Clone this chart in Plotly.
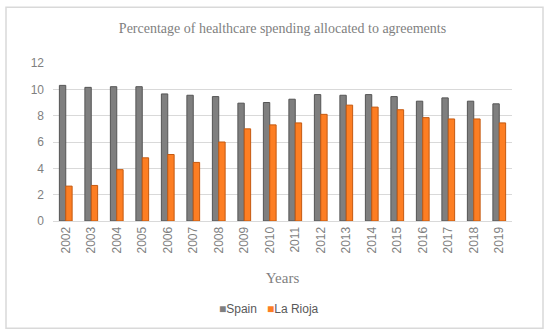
import plotly.graph_objects as go

years = [str(y) for y in range(2002, 2020)]
spain = [10.3, 10.15, 10.2, 10.2, 9.65, 9.55, 9.45, 8.95, 9.0, 9.25, 9.6, 9.55, 9.6, 9.45, 9.1, 9.35, 9.1, 8.9]
la_rioja = [2.65, 2.7, 3.9, 4.8, 5.05, 4.45, 6.0, 7.0, 7.3, 7.45, 8.1, 8.8, 8.65, 8.45, 7.85, 7.75, 7.75, 7.45]
y_ticks = [0, 2, 4, 6, 8, 10, 12]
series_names = ["Spain", "La Rioja"]
series_colors = ["#7f7f7f", "#fd7e23"]
edge_colors = ["#555555", "#c55a11"]

fig = go.Figure()
for name, vals, c, ec in zip(series_names, [spain, la_rioja], series_colors, edge_colors):
    fig.add_trace(go.Bar(x=years, y=vals, name=name,
                         marker=dict(color=c, line=dict(color=ec, width=1))))

# plot area: x 53..512 px, y 62.7..220.7 px
L, R, T, B = 53, 512, 62.7, 220.7
W, H = R - L, B - T
def px(x):
    return (x - L) / W
def py(y):
    return (B - y) / H

sans = "Liberation Sans, Arial, sans-serif"
serif = "Liberation Serif, DejaVu Serif, serif"

legend_text = "&nbsp;&nbsp;&nbsp;".join(
    f"<span style='color:{c}'>■</span>{n}" for n, c in zip(series_names, series_colors)
)

fig.update_layout(
    width=550, height=335,
    margin=dict(l=L, r=550 - R, t=T, b=335 - B, autoexpand=False),
    paper_bgcolor="white", plot_bgcolor="white",
    barmode="group", bargap=0.5, bargroupgap=0.0,
    showlegend=False,
    title=dict(text="Percentage of healthcare spending allocated to agreements",
               x=0.5, xref="paper", xanchor="center", y=1 - 28 / 335, yanchor="middle",
               font=dict(family=serif, size=14, color="#7f7f7f")),
    xaxis=dict(tickangle=-90, tickfont=dict(family=sans, size=12, color="#7f7f7f"),
               showgrid=False, showline=True, linecolor="#d9d9d9", ticks="",
               title=dict(text="Years", standoff=19,
                          font=dict(family=serif, size=15, color="#7f7f7f"))),
    yaxis=dict(range=[0, 12], tickvals=y_ticks, showgrid=True, gridcolor="#d9d9d9", gridwidth=1,
               zeroline=False, showline=False, ticks="", ticklabelstandoff=8,
               tickfont=dict(family=sans, size=12, color="#7f7f7f")),
    annotations=[dict(text=legend_text, xref="paper", yref="paper",
                      x=px(269), y=py(309), xanchor="center", yanchor="middle",
                      showarrow=False, font=dict(family=sans, size=12, color="#595959"))],
    shapes=[dict(type="rect", xref="paper", yref="paper",
                 x0=px(6), x1=px(543), y0=py(328), y1=py(7),
                 line=dict(color="#d9d9d9", width=1.5), layer="below")],
)

fig.write_html("out.html", config={"displayModeBar": False},
               post_script="document.body.style.margin='0';document.body.style.padding='0';")
